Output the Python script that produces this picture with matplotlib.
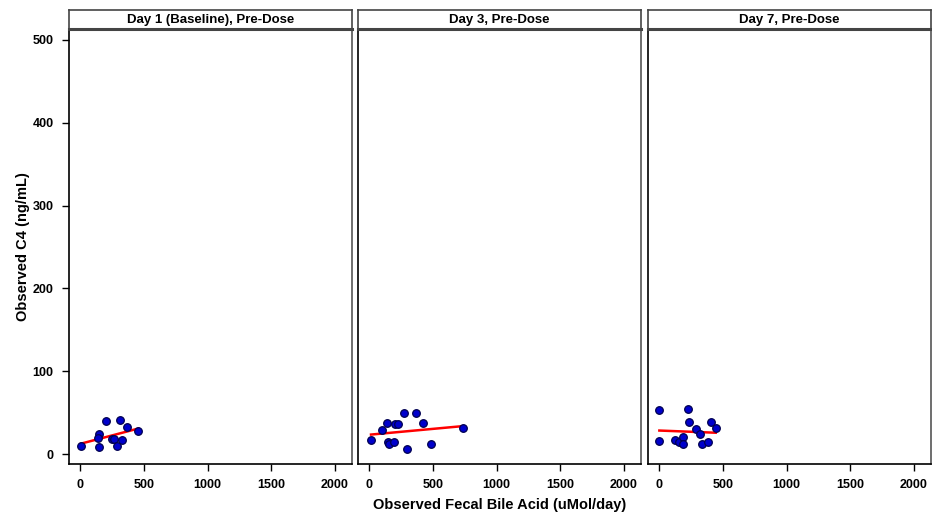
import matplotlib
matplotlib.use("Agg")
import matplotlib.pyplot as plt
import numpy as np

plt.rcParams['font.family'] = ['Liberation Sans', 'DejaVu Sans']
plt.rcParams['font.weight'] = 'bold'

panel_titles = ["Day 1 (Baseline), Pre-Dose", "Day 3, Pre-Dose", "Day 7, Pre-Dose"]

# observed fecal bile acid (uMol/day) and C4 (ng/mL)
day1_fba = [8, 149, 152, 144, 207, 311, 369, 458, 248, 267, 327, 288]
day1_c4 = [10, 8, 24, 19, 40, 41, 33, 28, 18, 18, 17, 10]

day3_fba = [16, 104, 139, 201, 227, 277, 366, 426, 737, 151, 159, 196, 298, 489]
day3_c4 = [17, 29, 37, 36, 36, 49, 49, 37, 32, 14, 12, 14, 6, 12]

day7_fba = [3, 3, 225, 235, 405, 445, 293, 319, 123, 160, 191, 188, 337, 387]
day7_c4 = [53, 16, 55, 39, 39, 31, 30, 24, 17, 15, 21, 12, 12, 14]

x_ticks = [0, 500, 1000, 1500, 2000]
y_ticks = [0, 100, 200, 300, 400, 500]

datasets = [(day1_fba, day1_c4), (day3_fba, day3_c4), (day7_fba, day7_c4)]

W, H = 932, 516
fig = plt.figure(figsize=(W / 100, H / 100), dpi=100)

lefts = [69, 358, 648]
pw = 283
top, bottom, strip_top = 30, 464, 10

for i, (xs, ys) in enumerate(datasets):
    ax = fig.add_axes([lefts[i] / W, 1 - bottom / H, pw / W, (bottom - top) / H])
    ax.scatter(xs, ys, s=30, color='#0000CC', edgecolors='#000050', linewidths=0.9, zorder=3)
    # simple linear fit
    xs_a = np.array(xs, dtype=float)
    k, b = np.polyfit(xs_a, np.array(ys, dtype=float), 1)
    xl = np.array([xs_a.min(), xs_a.max()])
    ax.plot(xl, k * xl + b, color='red', lw=1.8, zorder=2)

    ax.set_xlim(-86, 2133)
    ax.set_ylim(-12, 512)
    ax.set_xticks(x_ticks)
    ax.set_xticklabels([str(t) for t in x_ticks], fontsize=9, fontweight='bold')
    ax.tick_params(axis='both', direction='out', length=5, width=1, pad=6)
    for s in ['top', 'right']:
        ax.spines[s].set_color('#555555')
        ax.spines[s].set_linewidth(1.2)
    for s in ['left', 'bottom']:
        ax.spines[s].set_linewidth(1.2)
    if i == 0:
        ax.set_yticks(y_ticks)
        ax.set_yticklabels([str(t) for t in y_ticks], fontsize=9, fontweight='bold')
        ax.set_ylabel("Observed C4 (ng/mL)", fontsize=10.5, fontweight='bold', labelpad=2)
    else:
        ax.set_yticks([])
    if i == 1:
        ax.set_xlabel("Observed Fecal Bile Acid (uMol/day)", fontsize=10.5, fontweight='bold', labelpad=5)

    # header strip
    st = fig.add_axes([lefts[i] / W, 1 - (top - 1) / H, pw / W, (top - 1 - strip_top) / H])
    st.set_xticks([])
    st.set_yticks([])
    for s in st.spines.values():
        s.set_color('#444444')
        s.set_linewidth(1.2)
    st.spines['bottom'].set_linewidth(2.2)
    st.text(0.5, 0.5, panel_titles[i], ha='center', va='center', fontsize=9.5,
            fontweight='bold', transform=st.transAxes)

fig.savefig("out.png", dpi=100)
